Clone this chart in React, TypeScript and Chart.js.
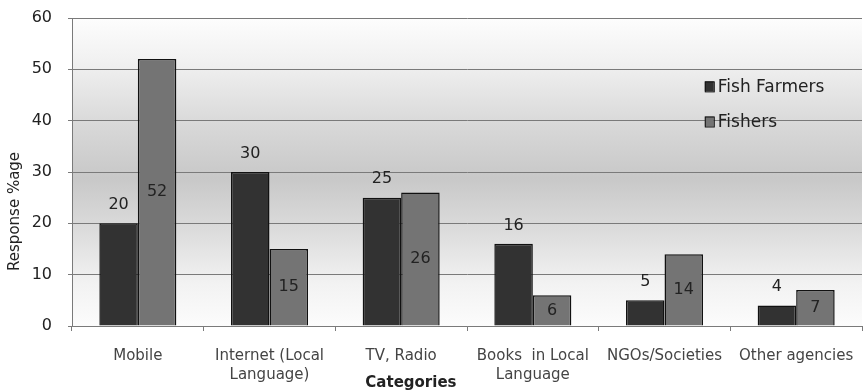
import React, { useEffect, useRef } from "react";
import { Chart, registerables } from "chart.js";

Chart.register(...registerables);

// Survey data: share of respondents using each information source
const categories: (string | string[])[] = [
  "Mobile",
  ["Internet (Local", "Language)"],
  "TV, Radio",
  ["Books  in Local", "Language"],
  "NGOs/Societies",
  "Other agencies",
];
const fishFarmers = [20, 30, 25, 16, 5, 4];
const fishers = [52, 15, 26, 6, 14, 7];
const seriesNames = ["Fish Farmers", "Fishers"];
const seriesColors = ["#323232", "#747474"];

const FONT = "'DejaVu Sans', 'Liberation Sans', Arial, sans-serif";

// Soft vertical grey band behind the bars
const backgroundPlugin = {
  id: "plotBackground",
  beforeDraw(chart: any) {
    const { ctx, chartArea } = chart;
    if (!chartArea) return;
    const { left, top, right, bottom } = chartArea;
    const g = ctx.createLinearGradient(0, top, 0, bottom);
    g.addColorStop(0, "#fdfdfd");
    g.addColorStop(0.15, "#f0f0f0");
    g.addColorStop(0.35, "#d8d8d8");
    g.addColorStop(0.52, "#c8c8c8");
    g.addColorStop(0.7, "#dddddd");
    g.addColorStop(0.86, "#f2f2f2");
    g.addColorStop(1, "#fcfcfc");
    ctx.save();
    ctx.fillStyle = g;
    ctx.fillRect(left, top, right - left, bottom - top);
    ctx.restore();
  },
};

// Value labels: above the first series, centred inside the second
const valueLabelPlugin = {
  id: "valueLabels",
  afterDatasetsDraw(chart: any) {
    const { ctx } = chart;
    ctx.save();
    ctx.font = `16px ${FONT}`;
    ctx.fillStyle = "#222222";
    ctx.textAlign = "center";
    ctx.textBaseline = "middle";
    chart.data.datasets.forEach((ds: any, di: number) => {
      const meta = chart.getDatasetMeta(di);
      meta.data.forEach((bar: any, i: number) => {
        const v = ds.data[i];
        const y = di === 0 ? bar.y - 18.5 : (bar.y + bar.base) / 2;
        ctx.fillText(String(v), bar.x, y);
      });
    });
    ctx.restore();
  },
};

// Legend placed inside the plot, plus the two axis titles
const annotationPlugin = {
  id: "legendAndTitles",
  afterDraw(chart: any) {
    const { ctx, chartArea } = chart;
    const { left, right, top, bottom } = chartArea;
    const w = right - left;
    const h = bottom - top;
    ctx.save();

    // legend
    const lx = left + w * 0.801;
    const ly0 = top + h * 0.222;
    const rowGap = h * 0.114;
    ctx.font = `17px ${FONT}`;
    ctx.textBaseline = "middle";
    ctx.textAlign = "left";
    chart.data.datasets.forEach((ds: any, i: number) => {
      const y = ly0 + i * rowGap;
      ctx.fillStyle = ds.backgroundColor;
      ctx.fillRect(lx, y - 5, 9, 10);
      ctx.strokeStyle = "#111111";
      ctx.lineWidth = 1;
      ctx.strokeRect(lx + 0.5, y - 4.5, 9, 10);
      ctx.fillStyle = "#222222";
      ctx.fillText(ds.label, lx + 13, y + 1);
    });

    // x-axis title
    ctx.font = `bold 15px ${FONT}`;
    ctx.fillStyle = "#222222";
    ctx.textAlign = "center";
    ctx.textBaseline = "middle";
    ctx.fillText("Categories", left + w * 0.429, bottom + 57);

    // y-axis title
    ctx.font = `15px ${FONT}`;
    ctx.translate(15, top + h * 0.628);
    ctx.rotate(-Math.PI / 2);
    ctx.fillText("Response %age", 0, 0);

    ctx.restore();
  },
};

export default function App() {
  const canvasRef = useRef<HTMLCanvasElement | null>(null);

  useEffect(() => {
    document.body.style.margin = "0";
    const canvas = canvasRef.current;
    if (!canvas) return;
    const chart = new Chart(canvas, {
      type: "bar",
      data: {
        labels: categories,
        datasets: [
          {
            label: seriesNames[0],
            data: fishFarmers,
            backgroundColor: seriesColors[0],
            borderColor: "#111111",
            borderWidth: 1.5,
          },
          {
            label: seriesNames[1],
            data: fishers,
            backgroundColor: seriesColors[1],
            borderColor: "#111111",
            borderWidth: 1.5,
          },
        ],
      },
      options: {
        animation: false,
        responsive: false,
        maintainAspectRatio: false,
        layout: { padding: { top: 18, right: 1, left: 0, bottom: 0 } },
        datasets: {
          bar: { barPercentage: 1, categoryPercentage: 0.585 },
        },
        plugins: {
          legend: { display: false },
          tooltip: { enabled: false },
        },
        scales: {
          x: {
            afterFit(scale: any) {
              scale.height = 66;
              scale.paddingLeft = 0;
              scale.paddingRight = 0;
              scale.paddingTop = 0;
              scale.paddingBottom = 0;
            },
            grid: {
              display: true,
              drawOnChartArea: false,
              drawTicks: true,
              tickLength: 5,
              offset: true,
              color: "#7a7a7a",
            },
            border: { display: true, color: "#7a7a7a", width: 1 },
            ticks: {
              color: "#444444",
              font: { family: FONT, size: 15, lineHeight: 1.27 },
              padding: 16,
              maxRotation: 0,
              autoSkip: false,
            },
          },
          y: {
            min: 0,
            max: 60,
            afterFit(scale: any) {
              scale.width = 72;
              scale.paddingLeft = 0;
              scale.paddingRight = 0;
              scale.paddingTop = 0;
              scale.paddingBottom = 0;
            },
            grid: {
              color: "#7a7a7a",
              lineWidth: 1,
              drawTicks: true,
              tickLength: 4,
            },
            border: { display: true, color: "#7a7a7a", width: 1 },
            ticks: {
              stepSize: 10,
              color: "#222222",
              padding: 16,
              font: { family: FONT, size: 16 },
            },
          },
        },
      },
      plugins: [backgroundPlugin, valueLabelPlugin, annotationPlugin],
    });
    return () => chart.destroy();
  }, []);

  return (
    <div style={{ width: 863, height: 392, background: "#ffffff" }}>
      <canvas ref={canvasRef} width={863} height={392} style={{ display: "block" }} />
    </div>
  );
}
